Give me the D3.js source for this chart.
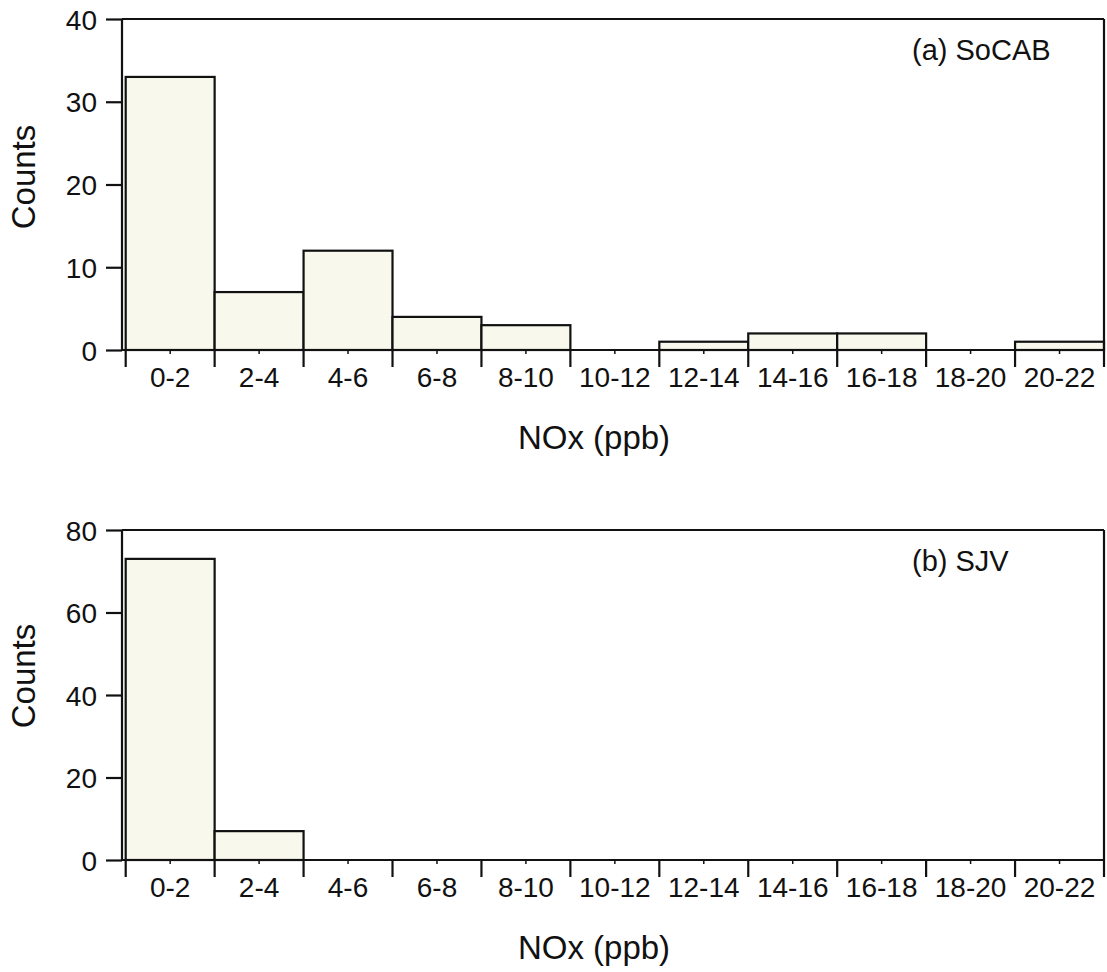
<!DOCTYPE html>
<html>
<head>
<meta charset="utf-8">
<script src="https://cdn.jsdelivr.net/npm/d3@7"></script>
<style>
  body { margin: 0; background: #fff; }
  svg text { font-family: "Liberation Sans", Arial, sans-serif; fill: #111; }
</style>
</head>
<body>
<div id="chart"></div>
<script>
// NOx bins (ppb)
var bins = ["0-2", "2-4", "4-6", "6-8", "8-10", "10-12", "12-14", "14-16", "16-18", "18-20", "20-22"];

// counts per bin
var socabCounts = [33, 7, 12, 4, 3, 0, 1, 2, 2, 0, 1];
var sjvCounts = [73, 7, 0, 0, 0, 0, 0, 0, 0, 0, 0];

var panelLabels = ["(a) SoCAB", "(b) SJV"];
var yMax = [40, 80];
var yStep = [10, 20];

var W = 1107, H = 972;
var left = 122, xStart = 125.7, right = 1104;

var svg = d3.select("#chart").append("svg")
    .attr("width", W)
    .attr("height", H);

var panels = [
  { counts: socabCounts, label: panelLabels[0], max: yMax[0], step: yStep[0], top: 19, bottom: 350, titleY: 177 },
  { counts: sjvCounts, label: panelLabels[1], max: yMax[1], step: yStep[1], top: 530, bottom: 860, titleY: 676 }
];

var x = d3.scaleBand()
    .domain(bins)
    .range([xStart, right])
    .padding(0);

panels.forEach(function(p) {
  var g = svg.append("g");

  var y = d3.scaleLinear()
      .domain([0, p.max])
      .range([p.bottom, p.top]);

  // bars
  g.selectAll("rect.bar")
      .data(p.counts)
    .enter().append("rect")
      .attr("class", "bar")
      .attr("x", function(d, i) { return x(bins[i]); })
      .attr("y", function(d) { return y(d); })
      .attr("width", x.bandwidth())
      .attr("height", function(d) { return p.bottom - y(d); })
      .style("fill", "#f8f8ec")
      .style("stroke", "#111")
      .style("stroke-width", 2.2);

  // y axis
  var yAxis = d3.axisLeft(y)
      .tickValues(d3.range(0, p.max + 1, p.step))
      .tickSize(16)
      .tickPadding(9);
  var ya = g.append("g")
      .attr("transform", "translate(" + left + ",0)")
      .call(yAxis);
  ya.select(".domain").remove();
  ya.selectAll(".tick line").style("stroke", "#111").style("stroke-width", 2.2);
  ya.selectAll(".tick text").style("font-size", "28px").attr("dy", "0.36em");

  g.append("line")
      .attr("x1", left).attr("x2", left)
      .attr("y1", p.top).attr("y2", p.bottom)
      .style("stroke", "#111").style("stroke-width", 2.2);

  // frame top + right, baseline
  g.append("line")
      .attr("x1", left).attr("x2", right)
      .attr("y1", p.top).attr("y2", p.top)
      .style("stroke", "#111").style("stroke-width", 2.2);
  g.append("line")
      .attr("x1", right).attr("x2", right)
      .attr("y1", p.top).attr("y2", p.bottom)
      .style("stroke", "#111").style("stroke-width", 2.2);
  g.append("line")
      .attr("x1", left).attr("x2", right)
      .attr("y1", p.bottom).attr("y2", p.bottom)
      .style("stroke", "#111").style("stroke-width", 2.2);

  // x ticks at bin edges, minor ticks at centres, labels at centres
  var edges = bins.map(function(b) { return x(b); }).concat([right]);
  g.selectAll("line.xmajor")
      .data(edges)
    .enter().append("line")
      .attr("class", "xmajor")
      .attr("x1", function(d) { return d; }).attr("x2", function(d) { return d; })
      .attr("y1", p.bottom).attr("y2", p.bottom + 17)
      .style("stroke", "#111").style("stroke-width", 2.2);

  g.selectAll("line.xminor")
      .data(bins)
    .enter().append("line")
      .attr("class", "xminor")
      .attr("x1", function(d) { return x(d) + x.bandwidth() / 2; })
      .attr("x2", function(d) { return x(d) + x.bandwidth() / 2; })
      .attr("y1", p.bottom).attr("y2", p.bottom + 4)
      .style("stroke", "#111").style("stroke-width", 1.5);

  g.selectAll("text.xlab")
      .data(bins)
    .enter().append("text")
      .attr("class", "xlab")
      .attr("x", function(d) { return x(d) + x.bandwidth() / 2; })
      .attr("y", p.bottom + 37)
      .attr("text-anchor", "middle")
      .style("font-size", "28px")
      .text(function(d) { return d; });

  // axis titles
  g.append("text")
      .attr("x", 594)
      .attr("y", p.bottom + 99)
      .attr("text-anchor", "middle")
      .style("font-size", "33px")
      .text("NOx (ppb)");

  g.append("text")
      .attr("transform", "translate(35," + p.titleY + ") rotate(-90)")
      .attr("text-anchor", "middle")
      .style("font-size", "33px")
      .text("Counts");

  // panel label
  g.append("text")
      .attr("x", 912)
      .attr("y", p.top + 41)
      .style("font-size", "29px")
      .text(p.label);
});
</script>
</body>
</html>
